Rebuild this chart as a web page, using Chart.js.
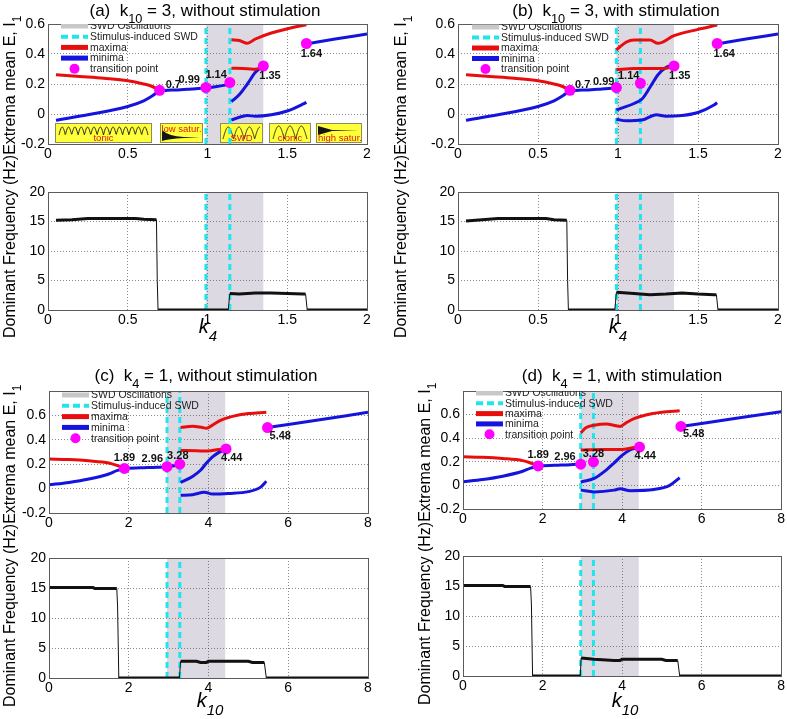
<!DOCTYPE html>
<html>
<head>
<meta charset="utf-8">
<script src="https://cdn.jsdelivr.net/npm/chart.js@4.4.1/dist/chart.umd.min.js"></script>
<style>
  html, body { margin: 0; padding: 0; background: #fff; }
  #wrap { position: relative; width: 787px; height: 719px; overflow: hidden; }
  #wrap canvas { position: absolute; left: 0; top: 0; }
</style>
</head>
<body>
<div id="wrap">
  <canvas id="aTop" width="787" height="719"></canvas>
  <canvas id="aBot" width="787" height="719"></canvas>
  <canvas id="bTop" width="787" height="719"></canvas>
  <canvas id="bBot" width="787" height="719"></canvas>
  <canvas id="cTop" width="787" height="719"></canvas>
  <canvas id="cBot" width="787" height="719"></canvas>
  <canvas id="dTop" width="787" height="719"></canvas>
  <canvas id="dBot" width="787" height="719"></canvas>
</div>
<script>
// ---------- ticks ----------
const k4Ticks = [0, 0.5, 1, 1.5, 2];
const k10Ticks = [0, 2, 4, 6, 8];
const extremaTicks = [-0.2, 0, 0.2, 0.4, 0.6];
const freqTicks = [0, 5, 10, 15, 20];

// ---------- (a) k10 = 3, without stimulation ----------
const aMaxLow = [[0.05, 0.262], [0.2, 0.25], [0.35, 0.238], [0.5, 0.222], [0.6, 0.2], [0.65, 0.185], [0.7, 0.158]];
const aMinMain = [[0.05, -0.042], [0.25, -0.005], [0.5, 0.05], [0.6, 0.088], [0.65, 0.118], [0.7, 0.152], [0.8, 0.16], [0.9, 0.167], [0.99, 0.174], [1.05, 0.182], [1.14, 0.198]];
const aMaxHigh = [[1.15, 0.495], [1.2, 0.49], [1.25, 0.472], [1.3, 0.5], [1.4, 0.54], [1.5, 0.568], [1.62, 0.595]];
const aMaxMid = [[1.15, 0.305], [1.25, 0.302], [1.3, 0.298], [1.35, 0.318]];
const aMinS = [[1.15, 0.082], [1.2, 0.13], [1.25, 0.2], [1.3, 0.278], [1.35, 0.322]];
const aMinLow = [[1.15, -0.04], [1.25, -0.01], [1.3, -0.015], [1.4, -0.005], [1.5, 0.02], [1.6, 0.067], [1.62, 0.078]];
const aMinHigh = [[1.62, 0.467], [1.8, 0.5], [2, 0.533]];
const aTransX = [0.7, 0.99, 1.14, 1.35, 1.62];
const aTransY = [0.158, 0.176, 0.21, 0.32, 0.47];
const aTransLabels = ['0.7', '0.99', '1.14', '1.35', '1.64'];
const aFreq = [[0.05, 15.2], [0.15, 15.3], [0.25, 15.5], [0.55, 15.5], [0.6, 15.4], [0.68, 15.3], [0.685, 5], [0.69, 0], [1.13, 0], [1.14, 2.8], [1.2, 2.7], [1.3, 2.9], [1.4, 2.9], [1.5, 2.8], [1.6, 2.7], [1.615, 2.7], [1.625, 0], [2, 0]];

// ---------- (b) k10 = 3, with stimulation ----------
const bMinMain = [[0.05, -0.042], [0.25, -0.005], [0.5, 0.05], [0.6, 0.088], [0.65, 0.118], [0.7, 0.152], [0.8, 0.16], [0.9, 0.167], [0.99, 0.174]];
const bMaxHigh = [[0.99, 0.427], [1.05, 0.478], [1.1, 0.493], [1.2, 0.493], [1.25, 0.471], [1.35, 0.522], [1.5, 0.564], [1.62, 0.593]];
const bMaxMid = [[0.99, 0.296], [1.1, 0.303], [1.25, 0.303], [1.3, 0.305], [1.35, 0.32]];
const bMinS = [[0.99, 0.027], [1.1, 0.07], [1.15, 0.1], [1.2, 0.178], [1.25, 0.262], [1.3, 0.31], [1.35, 0.33]];
const bMinLow = [[0.99, -0.035], [1.05, -0.045], [1.15, -0.04], [1.24, -0.005], [1.3, -0.015], [1.4, -0.01], [1.5, 0.01], [1.6, 0.06], [1.62, 0.075]];
const bTransY = [0.158, 0.176, 0.205, 0.32, 0.47];
const bFreq = [[0.05, 15.1], [0.15, 15.3], [0.25, 15.5], [0.55, 15.5], [0.6, 15.3], [0.68, 15.2], [0.685, 5], [0.69, 0], [0.98, 0], [0.99, 3.0], [1.1, 2.8], [1.2, 2.6], [1.3, 2.7], [1.4, 2.9], [1.5, 2.7], [1.6, 2.6], [1.615, 2.6], [1.625, 0], [2, 0]];

// ---------- (c) k4 = 1, without stimulation ----------
const cMaxLow = [[0, 0.242], [0.5, 0.238], [1, 0.228], [1.5, 0.21], [1.7, 0.19], [1.89, 0.165]];
const cMinMain = [[0, 0.031], [0.5, 0.05], [1, 0.078], [1.5, 0.12], [1.7, 0.147], [1.89, 0.163], [2.3, 0.17], [2.7, 0.175], [2.96, 0.18], [3.28, 0.195]];
const cMaxHigh = [[3.3, 0.5], [3.6, 0.512], [3.85, 0.5], [3.95, 0.495], [4.1, 0.52], [4.3, 0.56], [4.6, 0.592], [5.0, 0.615], [5.45, 0.625]];
const cMaxMid = [[3.3, 0.312], [3.7, 0.31], [4.0, 0.308], [4.2, 0.318], [4.44, 0.328]];
const cMinS = [[3.3, 0.05], [3.6, 0.1], [3.8, 0.15], [3.95, 0.21], [4.1, 0.26], [4.25, 0.295], [4.44, 0.322]];
const cMinLow = [[3.3, -0.055], [3.6, -0.05], [3.9, -0.03], [4.1, -0.045], [4.5, -0.04], [5.0, -0.025], [5.3, 0.01], [5.45, 0.06]];
const cMinHigh = [[5.48, 0.5], [6, 0.525], [7, 0.575], [8, 0.625]];
const cTransX = [1.89, 2.96, 3.28, 4.44, 5.48];
const cTransY = [0.165, 0.18, 0.2, 0.325, 0.5];
const cTransLabels = ['1.89', '2.96', '3.28', '4.44', '5.48'];
const cFreq = [[0, 15.1], [1.1, 15.1], [1.15, 14.9], [1.7, 14.9], [1.72, 12], [1.75, 0], [3.27, 0], [3.3, 2.8], [3.7, 2.8], [3.8, 2.6], [3.95, 2.6], [4.0, 2.8], [5.0, 2.8], [5.1, 2.6], [5.4, 2.6], [5.45, 0], [8, 0]];

// ---------- (d) k4 = 1, with stimulation ----------
const dMinMain = [[0, 0.031], [0.5, 0.05], [1, 0.078], [1.5, 0.12], [1.7, 0.147], [1.89, 0.163], [2.3, 0.17], [2.7, 0.175], [2.96, 0.18]];
const dMaxHigh = [[2.96, 0.445], [3.1, 0.49], [3.3, 0.51], [3.6, 0.52], [3.85, 0.505], [3.95, 0.5], [4.1, 0.53], [4.3, 0.565], [4.6, 0.597], [5.0, 0.62], [5.45, 0.632]];
const dMaxMid = [[2.96, 0.3], [3.5, 0.305], [4.0, 0.305], [4.2, 0.315], [4.44, 0.33]];
const dMinS = [[2.96, 0.028], [3.3, 0.06], [3.6, 0.13], [3.8, 0.19], [4.0, 0.255], [4.2, 0.3], [4.44, 0.325]];
const dMinLow = [[2.96, -0.04], [3.3, -0.055], [3.8, -0.04], [3.95, -0.028], [4.2, -0.045], [4.8, -0.035], [5.2, 0.0], [5.45, 0.065]];
const dFreq = [[0, 15.1], [1.0, 15.1], [1.05, 14.9], [1.7, 14.9], [1.72, 12], [1.75, 0], [2.95, 0], [2.97, 3.0], [3.3, 2.8], [3.8, 2.6], [3.95, 2.6], [4.0, 2.8], [5.0, 2.8], [5.1, 2.6], [5.4, 2.6], [5.45, 0], [8, 0]];

// shaded SWD region and stimulus lines
const k4Band = [0.99, 1.35];
const k10Band = [2.96, 4.42];
const k4Stim = [0.99, 1.14];
const k10Stim = [2.96, 3.28];

// ---------- styling ----------
const W = 787, H = 719, YW = 44, XH = 22;
const FONT = '"Liberation Sans", Arial, sans-serif';
const RED = 'rgb(232,14,14)', BLUE = 'rgb(20,20,222)', CYAN = 'rgb(34,228,236)';
const MAGENTA = 'rgb(255,0,255)', BAND = 'rgb(221,217,226)';
const DECO = {};

const pts = a => a.map(([x, y]) => ({ x, y }));
const zip = (xs, ys) => xs.map((x, i) => ({ x, y: ys[i] }));

function rich(ctx, parts, x, y, size, align, rot) {
  const font = k => (k.includes('i') ? 'italic ' : '') + (k.includes('b') ? 'bold ' : '') +
    (k.includes('s') ? size * 0.75 : size) + 'px ' + FONT;
  ctx.save();
  ctx.translate(x, y);
  if (rot) ctx.rotate(-Math.PI / 2);
  ctx.textAlign = 'left';
  ctx.textBaseline = 'alphabetic';
  let w = 0;
  parts.forEach(([t, k]) => { ctx.font = font(k); w += ctx.measureText(t).width; });
  let cx = align === 'center' ? -w / 2 : align === 'right' ? -w : 0;
  parts.forEach(([t, k]) => {
    ctx.font = font(k);
    ctx.fillText(t, cx, k.includes('s') ? size * 0.4 : 0);
    cx += ctx.measureText(t).width;
  });
  ctx.restore();
}

function drawInset(ctx, b) {
  ctx.save();
  ctx.fillStyle = '#ffff3a';
  ctx.fillRect(b.x, b.y, b.w, b.h);
  ctx.strokeStyle = '#8c8c5a';
  ctx.lineWidth = 1;
  ctx.strokeRect(b.x + 0.5, b.y + 0.5, b.w - 1, b.h - 1);
  ctx.strokeStyle = '#151515';
  ctx.fillStyle = '#151515';
  ctx.lineWidth = 0.9;
  const arches = (n, top, amp, x0, x1) => {
    ctx.beginPath();
    for (let i = 0; i <= 200; i++) {
      const t = i / 200;
      ctx.lineTo(x0 + t * (x1 - x0), top + amp - amp * Math.abs(Math.sin(t * n * Math.PI)));
    }
    ctx.stroke();
  };
  if (b.kind === 'tonic') arches(14, b.y + 4, 8, b.x + 4, b.x + b.w - 4);
  if (b.kind === 'swd') arches(3.5, b.y + 4, 12, b.x + 3, b.x + b.w - 3);
  if (b.kind === 'clonic') arches(3, b.y + 3, 13, b.x + 4, b.x + b.w - 4);
  if (b.kind === 'low') {
    ctx.beginPath();
    ctx.moveTo(b.x + 2, b.y + 7);
    ctx.quadraticCurveTo(b.x + 8, b.y + 13, b.x + b.w * 0.55, b.y + 14);
    ctx.lineTo(b.x + b.w - 3, b.y + 14);
    ctx.lineTo(b.x + b.w * 0.55, b.y + 15);
    ctx.quadraticCurveTo(b.x + 8, b.y + 16, b.x + 2, b.y + b.h - 2);
    ctx.closePath();
    ctx.fill();
  }
  if (b.kind === 'high') {
    ctx.beginPath();
    ctx.moveTo(b.x + 2, b.y + 3);
    ctx.lineTo(b.x + 16, b.y + 7);
    ctx.lineTo(b.x + b.w - 3, b.y + 7);
    ctx.lineTo(b.x + 16, b.y + 8);
    ctx.lineTo(b.x + 2, b.y + 12);
    ctx.closePath();
    ctx.fill();
  }
  ctx.fillStyle = '#d81c1c';
  ctx.font = '9.5px ' + FONT;
  ctx.textAlign = 'center';
  ctx.textBaseline = 'alphabetic';
  ctx.fillText(b.label, b.x + b.w / 2 + (b.dx || 0), b.kind === 'low' ? b.y + 9 : b.y + b.h - 2);
  ctx.restore();
}

function drawLegend(ctx, lg, area) {
  const items = [
    ['SWD Oscillations', 'band'], ['Stimulus-induced SWD', 'dash'],
    ['maxima', 'red'], ['minima', 'blue'], ['transition point', 'dot']
  ];
  ctx.save();
  ctx.beginPath();
  ctx.rect(area.left, area.top, area.right - area.left, area.bottom - area.top);
  ctx.clip();
  items.forEach(([label, kind], i) => {
    const y = lg.y + i * lg.dy;
    const x0 = lg.x, x1 = lg.x + 27;
    ctx.setLineDash(kind === 'dash' ? [7, 4] : []);
    ctx.lineWidth = kind === 'dash' ? 4 : 5;
    ctx.strokeStyle = kind === 'band' ? 'rgb(200,200,200)' : kind === 'dash' ? CYAN : kind === 'red' ? RED : BLUE;
    if (kind === 'dot') {
      ctx.fillStyle = MAGENTA;
      ctx.beginPath();
      ctx.arc((x0 + x1) / 2, y, 5, 0, Math.PI * 2);
      ctx.fill();
    } else {
      ctx.beginPath();
      ctx.moveTo(x0, y);
      ctx.lineTo(x1, y);
      ctx.stroke();
    }
    ctx.setLineDash([]);
    ctx.fillStyle = '#222';
    ctx.font = '10.5px ' + FONT;
    ctx.textAlign = 'left';
    ctx.textBaseline = 'middle';
    ctx.fillText(label, x1 + 2, y + 0.5);
  });
  ctx.restore();
}

const decoPlugin = {
  id: 'deco',
  beforeDraw(chart) {
    const d = DECO[chart.canvas.id];
    const { ctx, chartArea: ca, scales: { x } } = chart;
    const x0 = x.getPixelForValue(d.band[0]), x1 = x.getPixelForValue(d.band[1]);
    ctx.save();
    ctx.fillStyle = BAND;
    ctx.fillRect(x0, ca.top, x1 - x0, ca.bottom - ca.top);
    ctx.restore();
  },
  beforeDatasetsDraw(chart) {
    const d = DECO[chart.canvas.id];
    if (d.insets) d.insets.forEach(b => drawInset(chart.ctx, b));
  },
  afterDraw(chart) {
    const d = DECO[chart.canvas.id];
    const { ctx, chartArea: ca, scales: { x, y } } = chart;
    ctx.save();
    ctx.strokeStyle = '#5a5a5a';
    ctx.lineWidth = 1;
    ctx.strokeRect(Math.round(ca.left) + 0.5, Math.round(ca.top) + 0.5, Math.round(ca.right - ca.left), Math.round(ca.bottom - ca.top));
    ctx.restore();
    ctx.save();
    ctx.fillStyle = '#111';
    if (d.points) {
      ctx.font = 'bold 11px ' + FONT;
      ctx.textBaseline = 'middle';
      d.points.labels.forEach((t, i) => {
        const [dx, dy, al] = d.points.off[i];
        ctx.textAlign = al;
        ctx.fillText(t, x.getPixelForValue(d.points.x[i]) + dx, y.getPixelForValue(d.points.y[i]) + dy);
      });
    }
    ctx.restore();
    if (d.legend) drawLegend(ctx, d.legend, ca);
    ctx.save();
    ctx.fillStyle = '#000';
    if (d.title) rich(ctx, d.title.parts, d.title.x, d.title.y, 17, 'center', false);
    if (d.ylabel) rich(ctx, d.ylabel.parts, d.ylabel.x, d.ylabel.y, 16, 'left', true);
    if (d.xlabel) rich(ctx, d.xlabel.parts, d.xlabel.x, d.xlabel.y, 20, 'center', false);
    ctx.restore();
  }
};

function axis(min, max, ticks, isX) {
  return {
    type: 'linear', min, max,
    grid: { color: 'rgba(60,60,60,0.6)', lineWidth: 1, drawTicks: false },
    border: { display: false, dash: [1, 2] },
    afterBuildTicks: s => { s.ticks = ticks.map(v => ({ value: v })); },
    afterFit: s => { if (isX) s.height = XH; else s.width = YW; },
    ticks: {
      font: { family: FONT, size: 14 }, color: '#000', padding: isX ? 2 : 3,
      maxRotation: 0, autoSkip: false, callback: v => String(v)
    }
  };
}

const curve = (data, color) => ({
  data: pts(data), showLine: true, borderColor: color, borderWidth: 3,
  pointRadius: 0, cubicInterpolationMode: 'monotone', fill: false
});
const stimLine = (xv, y0, y1) => ({
  data: [{ x: xv, y: y0 }, { x: xv, y: y1 }], showLine: true, borderColor: CYAN,
  borderWidth: 3, borderDash: [6, 4], pointRadius: 0
});
const transDots = (xs, ys) => ({
  data: zip(xs, ys), showLine: false, pointRadius: 5.5, pointBackgroundColor: MAGENTA,
  pointBorderWidth: 0, pointBorderColor: MAGENTA
});
const freqLine = data => ({
  data: pts(data), showLine: true, borderColor: '#111', pointRadius: 0, borderWidth: 3,
  segment: { borderWidth: c => (Math.abs(c.p1.parsed.y - c.p0.parsed.y) > 1 ? 1 : 3) }
});

function makeChart(id, box, xr, yr, datasets, deco) {
  DECO[id] = deco;
  return new Chart(document.getElementById(id), {
    type: 'scatter',
    data: { datasets },
    options: {
      responsive: false, animation: false, events: [],
      layout: { padding: { left: box[0] - YW, right: W - box[1], top: box[2], bottom: H - box[3] - XH } },
      plugins: { legend: { display: false }, tooltip: { enabled: false } },
      scales: { x: axis(xr[0], xr[1], xr[2], true), y: axis(yr[0], yr[1], yr[2], false) }
    },
    plugins: [decoPlugin]
  });
}

const yLabelParts = [['Dominant Frequency (Hz)', 'n'], ['Extrema mean E, I', 'n'], ['1', 's']];

// ---------- panel (a) ----------
makeChart('aTop', [48, 367, 24, 144], [0, 2, k4Ticks], [-0.2, 0.6, extremaTicks], [
  transDots(aTransX, aTransY),
  curve(aMaxLow, RED), curve(aMaxHigh, RED), curve(aMaxMid, RED),
  curve(aMinMain, BLUE), curve(aMinS, BLUE), curve(aMinLow, BLUE), curve(aMinHigh, BLUE),
  stimLine(k4Stim[0], -0.2, 0.6), stimLine(k4Stim[1], -0.2, 0.6)
], {
  band: k4Band,
  title: { parts: [['(a)  k', 'n'], ['10', 's'], [' = 3, without stimulation', 'n']], x: 205, y: 16 },
  ylabel: { parts: yLabelParts, x: 15, y: 338 },
  legend: { x: 61, y: 26, dy: 10.7 },
  points: { x: aTransX, y: aTransY, labels: aTransLabels,
    off: [[6, -5, 'left'], [-6, -8, 'right'], [-3, -8, 'right'], [-4, 10, 'left'], [5, 10, 'center']] },
  insets: [
    { kind: 'tonic', label: 'tonic', x: 55, y: 123, w: 97, h: 20 },
    { kind: 'low', label: 'low satur.', x: 160, y: 123, w: 43, h: 20 },
    { kind: 'swd', label: 'SWD', x: 220, y: 123, w: 43, h: 20 },
    { kind: 'clonic', label: 'clonic', x: 269, y: 123, w: 42, h: 20 },
    { kind: 'high', label: 'high satur.', x: 316, y: 123, w: 46, h: 20, dx: 1 }
  ]
});
makeChart('aBot', [48, 367, 192, 310], [0, 2, k4Ticks], [0, 20, freqTicks], [
  freqLine(aFreq), stimLine(k4Stim[0], 0, 20), stimLine(k4Stim[1], 0, 20)
], {
  band: k4Band,
  xlabel: { parts: [['k', 'i'], ['4', 'is']], x: 208, y: 333 }
});

// ---------- panel (b) ----------
makeChart('bTop', [458, 778, 24, 144], [0, 2, k4Ticks], [-0.2, 0.6, extremaTicks], [
  transDots(aTransX, bTransY),
  curve(aMaxLow, RED), curve(bMaxHigh, RED), curve(bMaxMid, RED),
  curve(bMinMain, BLUE), curve(bMinS, BLUE), curve(bMinLow, BLUE), curve(aMinHigh, BLUE),
  stimLine(k4Stim[0], -0.2, 0.6), stimLine(k4Stim[1], -0.2, 0.6)
], {
  band: k4Band,
  title: { parts: [['(b)  k', 'n'], ['10', 's'], [' = 3, with stimulation', 'n']], x: 616, y: 16 },
  ylabel: { parts: yLabelParts, x: 406, y: 338 },
  legend: { x: 472, y: 27, dy: 10.5 },
  points: { x: aTransX, y: bTransY, labels: aTransLabels,
    off: [[5, -5, 'left'], [-2, -6, 'right'], [-1, -7, 'right'], [-5, 10, 'left'], [7, 10, 'center']] }
});
makeChart('bBot', [458, 778, 192, 310], [0, 2, k4Ticks], [0, 20, freqTicks], [
  freqLine(bFreq), stimLine(k4Stim[0], 0, 20), stimLine(k4Stim[1], 0, 20)
], {
  band: k4Band,
  xlabel: { parts: [['k', 'i'], ['4', 'is']], x: 618, y: 333 }
});

// ---------- panel (c) ----------
makeChart('cTop', [49, 368, 391, 513], [0, 8, k10Ticks], [-0.2, 0.8, extremaTicks], [
  transDots(cTransX, cTransY),
  curve(cMaxLow, RED), curve(cMaxHigh, RED), curve(cMaxMid, RED),
  curve(cMinMain, BLUE), curve(cMinS, BLUE), curve(cMinLow, BLUE), curve(cMinHigh, BLUE),
  stimLine(k10Stim[0], -0.2, 0.8), stimLine(k10Stim[1], -0.2, 0.8)
], {
  band: k10Band,
  title: { parts: [['(c)  k', 'n'], ['4', 's'], [' = 1, without stimulation', 'n']], x: 206, y: 381 },
  ylabel: { parts: yLabelParts, x: 15, y: 707 },
  legend: { x: 62, y: 395, dy: 10.8 },
  points: { x: cTransX, y: cTransY, labels: cTransLabels,
    off: [[0, -11, 'center'], [-4, -8, 'right'], [-2, -8, 'center'], [-5, 9, 'left'], [2, 8, 'left']] }
});
makeChart('cBot', [49, 368, 558, 678], [0, 8, k10Ticks], [0, 20, freqTicks], [
  freqLine(cFreq), stimLine(k10Stim[0], 0, 20), stimLine(k10Stim[1], 0, 20)
], {
  band: k10Band,
  xlabel: { parts: [['k', 'i'], ['10', 'is']], x: 210, y: 707 }
});

// ---------- panel (d) ----------
makeChart('dTop', [463, 782, 391, 509], [0, 8, k10Ticks], [-0.2, 0.8, extremaTicks], [
  transDots(cTransX, cTransY),
  curve(cMaxLow, RED), curve(dMaxHigh, RED), curve(dMaxMid, RED),
  curve(dMinMain, BLUE), curve(dMinS, BLUE), curve(dMinLow, BLUE), curve(cMinHigh, BLUE),
  stimLine(k10Stim[0], -0.2, 0.8), stimLine(k10Stim[1], -0.2, 0.8)
], {
  band: k10Band,
  title: { parts: [['(d)  k', 'n'], ['4', 's'], [' = 1, with stimulation', 'n']], x: 622, y: 381 },
  ylabel: { parts: yLabelParts, x: 430, y: 705 },
  legend: { x: 476, y: 393, dy: 10.3 },
  points: { x: cTransX, y: cTransY, labels: cTransLabels,
    off: [[0, -11, 'center'], [-5, -7, 'right'], [0, -8, 'center'], [-5, 9, 'left'], [2, 8, 'left']] }
});
makeChart('dBot', [463, 782, 556, 676], [0, 8, k10Ticks], [0, 20, freqTicks], [
  freqLine(dFreq), stimLine(k10Stim[0], 0, 20), stimLine(k10Stim[1], 0, 20)
], {
  band: k10Band,
  xlabel: { parts: [['k', 'i'], ['10', 'is']], x: 625, y: 707 }
});
</script>
</body>
</html>
